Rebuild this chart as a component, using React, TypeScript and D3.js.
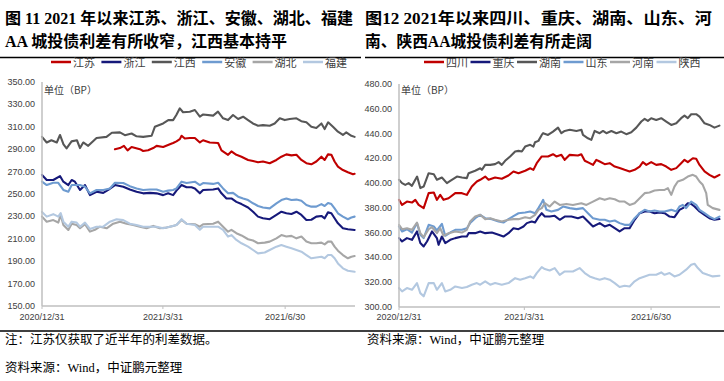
import React, { useEffect } from "react";
import * as d3 from "d3";

type Pt = [number, number]; // [days since 2020-12-31, spread in BP]

const START = new Date(2020, 11, 31).getTime();
const DAY = 86400000;
const toDate = (d: number) => new Date(START + d * DAY);

const leftTitle = ["图 11  2021 年以来江苏、浙江、安徽、湖北、福建", "AA 城投债利差有所收窄，江西基本持平"];
const rightTitle = ["图12   2021年以来四川、重庆、湖南、山东、河", "南、陕西AA城投债利差有所走阔"];
const leftNames = ["江苏", "浙江", "江西", "安徽", "湖北", "福建"];
const rightNames = ["四川", "重庆", "湖南", "山东", "河南", "陕西"];
const leftYTicks = [150, 170, 190, 210, 230, 250, 270, 290, 310, 330, 350];
const rightYTicks = [300, 320, 340, 360, 380, 400, 420, 440, 460, 480];
const xTickDays = [0, 90, 181];
const xTickLabels = ["2020/12/31", "2021/3/31", "2021/6/30"];
const unitLabel = "单位（BP）";
const noteLeft = "注：江苏仅获取了近半年的利差数据。";
const sourceText = "资料来源：Wind，中证鹏元整理";

const jiangsu: Pt[] = [[54.3,290],[58,291],[61,293],[63.7,289],[66.7,292],[72.9,290],[75.3,288.4],[79,289],[82.8,291],[85.3,293],[90.2,292],[95.2,294.4],[97.6,295.5],[100.1,297],[102.6,299],[103.9,302],[106.3,299.5],[110,300],[113.8,300],[117.5,296],[119.9,298],[124.9,296],[131.1,295.5],[133.6,289],[138.5,285],[141,288],[144.7,285],[148.5,283.3],[153.4,280.4],[157.1,279.5],[160.8,278.3],[164.5,279],[169.5,277.5],[174.5,280.4],[178.2,283.3],[181.9,285.4],[185.7,284.5],[189.4,285],[193.1,280.4],[196.8,277.5],[200.5,276.5],[204.2,279],[208,283.3],[210.4,280.4],[212.9,285.4],[215.4,285],[217.8,279],[220.3,274.4],[224,271.4],[227.7,269.4],[231.5,267.6],[232.7,268]];
const zhejiang: Pt[] = [[0,267],[3.5,262.5],[8.4,262.5],[13.4,266],[15.9,261],[19.6,258],[22.1,262.5],[24.5,261],[28.3,253.6],[32,258],[35.7,249],[40.6,252],[45.6,251],[49.3,253.6],[54.3,258],[60.5,256.5],[65.4,254],[70.4,252],[75.3,250.6],[80.3,251],[85.3,250.6],[90.2,249],[93.9,250.6],[97.6,249],[100.1,253],[103.9,258],[107.6,256],[111.3,256],[113.8,255],[117.5,250.6],[119.9,253.6],[127.4,254],[131.1,255],[133.6,250.6],[137.3,246],[141,246],[144.7,243],[148.5,241],[153.4,238],[157.1,234.2],[160.8,229.8],[164.5,228.3],[169.5,227.5],[174.5,231.3],[178.2,234.2],[181.9,232.8],[185.7,232.2],[189.4,234.2],[193.1,231.3],[196.8,226.8],[200.5,227],[204.2,229.8],[208,230.4],[210.4,228.3],[212.9,233.6],[215.4,232.8],[217.8,228.3],[220.3,223.8],[224,219.4],[227.7,218.6],[232.7,217.9]];
const jiangxi: Pt[] = [[0,301],[3.5,296],[7,298],[11,296],[13.4,302.7],[16,294.4],[18.3,290.8],[22,297],[26,298],[28.3,291],[30.7,296],[34.4,293],[40.6,300],[48,301],[52,304.7],[58,305],[61.7,302.5],[66.7,304],[70.4,301.5],[75.3,301],[81.6,302],[84,310],[90.2,313],[94,316],[97.6,316],[100,320.5],[102.6,326.5],[105,323],[110,323.5],[113.8,325],[117.5,319],[120,321],[127.4,320],[131,323.5],[134.8,317.6],[138.5,316],[142.2,320.5],[146,317],[149.7,319],[153.4,316],[157,313],[160.8,311],[164.5,311.5],[169.5,311],[173.2,313],[177,317.6],[180.7,316],[184.4,317],[189.4,317.6],[193,315],[196.8,314],[200.5,310],[204.2,309],[208,313],[210.4,308],[213,314],[216.6,310],[220.3,305.6],[224,302.7],[226.5,305],[230.3,302],[232.7,301]];
const anhui: Pt[] = [[0,261],[3.5,258],[8.4,260],[12.1,260],[15.9,253.6],[19.6,252],[22.1,258],[28.3,258],[32,256.5],[35.7,250.6],[40.6,253.6],[45.6,253.6],[50.6,255],[54.3,260],[60.5,259.8],[65.4,257],[70.4,255],[75.3,253.6],[80.3,254],[85.3,254],[90.2,252],[93.9,253],[97.6,253.6],[100.1,255],[103.9,261],[107.6,259.8],[113.8,261],[117.5,258],[119.9,259.8],[127.4,259],[131.1,260],[134.8,255],[138.5,250.6],[142.2,251],[146,247.6],[149.7,246],[153.4,244.6],[157.1,241.7],[160.8,239.3],[164.5,238],[169.5,237.2],[174.5,241.7],[178.2,244.6],[181.9,246],[185.7,244.6],[189.4,245],[193.1,244],[196.8,240.2],[200.5,238.7],[204.2,238.7],[208,241],[210.4,239.3],[212.9,242],[215.4,241],[217.8,237.2],[220.3,232.8],[224,229.8],[227.7,227.5],[230.3,229],[232.7,229.8]];
const hubei: Pt[] = [[0,229.8],[3.5,225.3],[8.4,226.7],[12.1,224.5],[13.9,231.3],[15.9,222.3],[19.6,217.9],[22.1,223.5],[25.8,222.3],[28.3,219.4],[32,223],[35.7,216.4],[39.4,218],[43.1,220.8],[48.1,219.4],[53,223.5],[58,225.3],[63,223.5],[67.9,222.3],[72.9,220.8],[77.8,219.4],[82.8,221.5],[87.7,219.4],[92.7,220],[97.6,221.5],[100.1,222.3],[103.9,226.8],[107.6,223.5],[113.8,223],[117.5,220.8],[119.9,223],[127.4,223.5],[131.1,225.3],[134.8,220.8],[138.5,216.4],[141,218],[144.7,215],[148.5,213],[153.4,209.6],[157.1,208.5],[160.8,206],[165.8,206.6],[169.5,207.5],[174.5,210.4],[178.2,213.3],[181.9,212],[185.7,212.6],[189.4,210.4],[193.1,212],[196.8,207.5],[200.5,206],[204.2,206],[208,206.6],[210.4,205],[212.9,207.5],[215.4,207.5],[217.8,203],[220.3,199.4],[224,195.5],[227.7,192.6],[230.3,194],[232.7,194.6]];
const fujian: Pt[] = [[0,234],[3.5,229.8],[8.4,232],[12.1,229.8],[13.9,233],[15.9,225.3],[19.6,220.8],[22.1,225.3],[25.8,224.5],[28.3,220.8],[32,224.5],[35.7,218.8],[40.6,220.8],[45.6,220.8],[50.6,225.3],[55.5,227.5],[60.5,226.7],[65.4,223.5],[70.4,222.3],[75.3,220.8],[80.3,220.8],[85.3,220.8],[90.2,219.4],[95.2,220.8],[100.1,222.3],[103.9,227.5],[107.6,223.5],[113.8,222.3],[117.5,218],[119.9,220.8],[127.4,220.8],[131.1,220.8],[134.8,218],[138.5,211.9],[141,213.3],[144.7,209],[148.5,206],[153.4,203],[157.1,200],[160.8,197],[165.8,197.8],[169.5,200],[174.5,203],[178.2,204.5],[181.9,203],[185.7,201.5],[189.4,200],[193.1,198.5],[196.8,195.5],[200.5,192.6],[204.2,193.3],[208,194],[210.4,192.6],[212.9,195.5],[215.4,195.5],[217.8,192.6],[220.3,188],[224,183.6],[227.7,181.5],[232.7,180.6]];

const sichuan: Pt[] = [[0,386.5],[2.2,382.4],[5.7,385.1],[9.3,384.3],[11.7,386.5],[14.1,382.4],[17.7,379.8],[21.3,391.9],[25,392.4],[27.2,386.5],[29.6,390.5],[32,386.5],[35.6,387.8],[40.4,391.9],[45.2,391.9],[48.7,390.5],[52.3,397.2],[55.9,401.3],[58.3,402.7],[61.9,405.3],[64.3,402.7],[69,404.5],[73.8,403.5],[78.6,406.1],[82.2,409.4],[85.8,408],[90.6,410],[94.2,412],[96.5,410.7],[98.9,416.1],[102.5,421.5],[107,421.5],[110.6,423.3],[113,421.5],[116.6,422.8],[119,418.8],[122.6,422.8],[128.5,422.3],[130.9,423.3],[133.4,418],[136.9,416.1],[139.3,414.7],[141.7,418.8],[144.1,417.4],[147.7,415.3],[151.3,416.1],[154.9,413.4],[158.4,412.1],[162,410.7],[165.6,409.4],[169.2,410.7],[172.8,413.4],[175.1,416.9],[177.6,414.7],[181.1,416.9],[184.7,414.7],[188.3,415.3],[191.9,413.4],[195.5,410.7],[199.1,412.1],[202.6,416.1],[205,418.8],[207.4,416.9],[211,420.1],[213.4,419.6],[215.8,414.7],[219.4,409.4],[222.9,406.7],[226.5,404.5],[230.1,406.7]];
const chongqing: Pt[] = [[0,355.6],[2.2,352.9],[5.7,355.6],[9.3,354.2],[12.9,361],[15.3,351.6],[17.7,348.9],[20.1,352.9],[23.7,361],[27.2,355.6],[28.4,350.2],[30.8,356.9],[33.2,351.6],[36.8,354.2],[40.4,355.6],[45.2,356.9],[48.7,356.9],[50,359.6],[54.7,359.6],[58.3,361],[61.9,359.6],[66.7,360.1],[71.5,358.3],[75,356.9],[78.6,359.6],[82.2,363.6],[85.8,362.8],[89.4,365],[91.8,367.7],[95.3,369],[97.7,368.2],[100.1,372.5],[102.5,375.7],[104.7,373],[108.2,373],[111.8,373.6],[115.4,370.4],[119,373],[123.8,373],[128.5,371.7],[132.1,373],[135.7,369],[139.3,365],[144.1,367.7],[147.7,365],[151.3,366.3],[154.9,363.6],[158.4,361],[162,363.6],[165.6,363.6],[169.2,370.4],[172.8,375.7],[176.4,377.1],[179.9,377.1],[183.5,375.7],[187.1,376.3],[190.7,375.7],[194.3,373],[197.8,372.5],[201.4,378.4],[203.8,379.8],[207.4,383.8],[209.8,383.2],[212.2,381.1],[215.8,377.1],[219.4,374.4],[222.9,371.7],[226.5,370.4],[230.1,371]];
const hunan: Pt[] = [[0,402.7],[2.2,400],[4.5,398.6],[6.9,400],[9.3,397.8],[13,405.3],[15.3,396],[17.7,397.2],[21.3,408],[25,407.2],[27.2,402.7],[30.8,404.5],[34.4,400],[36.8,401.8],[41.6,405.3],[45.2,404.5],[48.7,404],[50,408],[54.7,410],[58.3,412],[59.5,410.7],[61.9,414.7],[65.5,414.7],[69,415.3],[71.5,416.9],[73.8,414.7],[76.2,418],[79.8,421.5],[83.4,425.5],[85.8,426],[88.2,425.5],[90.6,429.5],[94.2,430.9],[96.5,429.5],[97.7,433],[100.1,434.1],[102.5,438.9],[103.5,440.3],[107,438.9],[110.6,441.6],[114.2,444.8],[116.6,440.3],[119,442.1],[122.6,443],[127.4,442.1],[131,443],[132.1,438.9],[135.7,436.2],[138.1,434.9],[140.5,442.1],[144.1,440.3],[146.5,442.1],[148.9,440.3],[152.5,442],[156.1,440.3],[159.6,441.6],[163.2,439.5],[166.8,441.1],[170.4,444.8],[174,449.7],[176.4,451.8],[178.7,450.2],[181.1,452.4],[184.7,451],[188.3,452.4],[191.9,449.7],[195.5,447],[199.1,448.3],[202.6,452.4],[205,454.5],[207.4,452.4],[209.8,455.6],[213.4,455.6],[215.8,453.7],[219.4,448.3],[222.9,447],[226.5,444.8],[230.1,446.4]];
const shandong: Pt[] = [[0,365],[2.2,361],[5.7,362.8],[9.3,360.1],[12.9,367.7],[15.3,358.3],[17.7,355.6],[21.3,366.3],[25,365],[27.2,361.8],[30.8,367.1],[33.2,357.5],[36.8,360.1],[40.4,362.3],[45.2,362.3],[48.7,363.6],[51.1,367.7],[54.7,371.7],[58.3,374.4],[61.9,371.7],[66.7,370.9],[71.5,369],[75,368.2],[78.6,370.9],[82.2,373.4],[85.8,375.7],[90.6,376.3],[94.2,377.1],[97.7,375.7],[100.1,379.8],[102.5,384.3],[103.5,386.5],[105.9,378.4],[109.4,377.1],[114.2,378.4],[117.8,381.1],[122.6,379.8],[127.4,379],[132.1,379.8],[135.7,375.7],[139.3,371.7],[144.1,370.4],[147.7,370.4],[151.3,369],[154.9,369.8],[158.4,367.7],[162,366.3],[165.6,366.3],[169.2,371.7],[172.8,375.7],[176.4,378.4],[179.9,377.1],[183.5,377.9],[187.1,377.1],[190.7,377.1],[195.5,378.4],[199.1,377.1],[201.4,381.1],[203.8,382.4],[206.2,379.8],[209.8,385.1],[213.4,382.4],[215.8,378.4],[219.4,375.7],[222.9,373],[226.5,370.9],[230.1,373]];
const henan: Pt[] = [[0,366.3],[2.2,362.8],[5.7,363.6],[9.3,362.3],[12.9,368.2],[15.3,359.6],[17.7,356.4],[21.3,362.8],[23.7,364.4],[27.2,359.6],[29.6,363.6],[32,357.5],[35.6,359.6],[40.4,361],[45.2,360.1],[48.7,362.3],[51.1,369],[54.7,373.1],[58.3,374.4],[61.9,370.9],[65.5,371.7],[69,370.4],[73.8,369],[78.6,370.4],[82.2,370.9],[85.8,370.9],[90.6,372.5],[94.2,371.7],[97.7,374.4],[100.1,378.4],[102.5,379.8],[104.7,383.8],[108.2,381.1],[111.8,385.1],[115.4,382.4],[120.2,383.2],[124.9,382.4],[130.9,383.8],[134.6,382.4],[139.3,385.1],[144.1,387.8],[147.7,386.5],[151.3,387.8],[154.9,387],[158.4,385.1],[162,385.1],[165.6,382.4],[169.2,383.8],[172.8,387.8],[176.4,391.9],[179.9,392.4],[183.5,394],[187.1,394.5],[190.7,394.5],[193.1,395.9],[195.5,390.5],[197.8,397.2],[200.2,401.3],[203.8,402.7],[207.4,405.3],[211,406.7],[213.4,405.3],[215.8,401.3],[218.1,398.6],[220.6,391.9],[221.7,382.4],[225.3,379.8],[230.1,378.4]];
const shaanxi: Pt[] = [[0,315.3],[2.2,312.6],[5.7,315.3],[9.3,313.9],[12.9,319.3],[15.3,311.2],[17.7,308.6],[21.3,319.3],[25,319.3],[27.2,313.9],[30.8,319.3],[33.2,312.6],[36.8,313.9],[40.4,316.6],[45.2,315.3],[48.7,316.1],[52.3,318],[55.9,319.3],[58.3,318],[61.9,320.7],[65.5,318],[69,319.3],[73.8,318],[78.6,319.3],[83.4,323.3],[87,322],[90.6,323.3],[94.2,324.7],[96.5,323.3],[98.9,327.4],[102.5,332.2],[104.7,330.6],[108.2,329.5],[111.8,331.4],[115.4,326],[119,328.7],[124.9,328.7],[129.7,331.4],[133.4,327.4],[136.9,324.7],[140.5,323.3],[144.1,322],[147.7,323.3],[151.3,322],[154.9,319.3],[158.4,316.1],[162,317.2],[165.6,316.6],[169.2,320.7],[172.8,323.3],[176.4,324.7],[179.9,326],[184.7,326],[188.3,327.9],[190.7,326],[194.3,327.4],[197.8,324.7],[201.4,326],[206.2,330.1],[209.8,334.1],[212.2,334.9],[214.6,331.4],[218.1,327.4],[221.7,326],[225.3,324.7],[230.1,325.2]];

const COLORS = ["#C00000", "#16197A", "#575757", "#6E9BD0", "#A6A6A6", "#B3C8E0"];

const CJK = "'Noto Sans CJK SC', 'Noto Sans', sans-serif";
const TITLE_FONT = "'Liberation Serif', 'Noto Sans CJK SC', serif";
const NUM_FONT = "'Liberation Sans', 'DejaVu Sans', sans-serif";

interface PanelProps {
  titles: string[];
  titleX: number;
  titleWidths: number[];
  names: string[];
  data: Pt[][];
  x0: number;
  x1: number;
  yTop: number;
  yBottom: number;
  yDomain: [number, number];
  yTicks: number[];
  endDay: number;
  legendX0: number;
  legendStep: number;
  ruleX0: number;
  ruleX1: number;
}

function Panel(p: PanelProps) {
  const x = d3.scaleTime().domain([toDate(0), toDate(p.endDay)]).range([p.x0, p.x1]);
  const y = d3.scaleLinear().domain(p.yDomain).range([p.yBottom, p.yTop]);
  const line = d3
    .line<Pt>()
    .x((d) => x(toDate(d[0])))
    .y((d) => y(d[1]));
  const axisColor = "#BFBFBF";
  return (
    <g>
      {p.titles.map((t, i) => (
        <text
          key={i}
          x={p.titleX}
          y={24 + i * 22.5}
          fontFamily={TITLE_FONT}
          fontWeight="bold"
          fontSize={16}
          fill="#000"
          textLength={p.titleWidths[i]}
          lengthAdjust="spacingAndGlyphs"
        >
          {t}
        </text>
      ))}
      <line x1={p.ruleX0} x2={p.ruleX1} y1={57.5} y2={57.5} stroke="#000" strokeWidth={1.5} />
      {p.names.map((n, i) => {
        const lx = p.legendX0 + i * p.legendStep;
        return (
          <g key={n}>
            <line x1={lx} x2={lx + 20} y1={62} y2={62} stroke={COLORS[i]} strokeWidth={2.5} />
            <text x={lx + 22} y={62} dominantBaseline="central" fontFamily={CJK} fontSize={11} fill="#404040">
              {n}
            </text>
          </g>
        );
      })}
      {p.yTicks.map((v) => (
        <text
          key={v}
          x={p.x0 - 7}
          y={y(v)}
          textAnchor="end"
          dominantBaseline="central"
          fontFamily={NUM_FONT}
          fontSize={9}
          fill="#404040"
        >
          {v.toFixed(2)}
        </text>
      ))}
      <text x={p.x0 + 2} y={89} dominantBaseline="central" fontFamily={CJK} fontSize={10} fill="#404040">
        {unitLabel}
      </text>
      {p.data.map((d, i) => (
        <path
          key={i}
          d={line(d) || ""}
          fill="none"
          stroke={COLORS[i]}
          strokeWidth={2.1}
          strokeLinejoin="round"
          strokeLinecap="round"
        />
      ))}
      <line x1={p.x0} x2={p.x0} y1={p.yTop} y2={p.yBottom} stroke={axisColor} strokeWidth={1.5} />
      <line x1={p.x0} x2={p.x1} y1={p.yBottom} y2={p.yBottom} stroke={axisColor} strokeWidth={1.5} />
      {xTickDays.map((d, i) => (
        <g key={d}>
          <line x1={x(toDate(d))} x2={x(toDate(d))} y1={p.yBottom} y2={p.yBottom + 3} stroke={axisColor} strokeWidth={1} />
          <text
            x={x(toDate(d))}
            y={320}
            textAnchor="middle"
            fontFamily={NUM_FONT}
            fontSize={9}
            fill="#404040"
          >
            {xTickLabels[i]}
          </text>
        </g>
      ))}
    </g>
  );
}

export default function App() {
  useEffect(() => {
    document.body.style.margin = "0";
  }, []);
  const noteFont = "'Liberation Serif', 'Noto Sans CJK SC', serif";
  return (
    <svg width={724} height={381} style={{ position: "absolute", left: 0, top: 0, background: "#fff" }}>
      <rect x={0} y={0} width={724} height={381} fill="#fff" />
      <Panel
        titles={leftTitle}
        titleX={5}
        titleWidths={[348, 282]}
        names={leftNames}
        data={[jiangsu, zhejiang, jiangxi, anhui, hubei, fujian]}
        x0={42}
        x1={355}
        yTop={82}
        yBottom={306}
        yDomain={[150, 350]}
        yTicks={leftYTicks}
        endDay={233}
        legendX0={51}
        legendStep={50.4}
        ruleX0={0}
        ruleX1={361}
      />
      <Panel
        titles={rightTitle}
        titleX={365}
        titleWidths={[347, 227]}
        names={rightNames}
        data={[sichuan, chongqing, hunan, shandong, henan, shaanxi]}
        x0={399}
        x1={720}
        yTop={84}
        yBottom={307}
        yDomain={[300, 480]}
        yTicks={rightYTicks}
        endDay={230.5}
        legendX0={424}
        legendStep={46.5}
        ruleX0={365}
        ruleX1={724}
      />
      <line x1={0} x2={724} y1={331} y2={331} stroke="#000" strokeWidth={1.5} />
      <text x={5} y={340} dominantBaseline="central" fontFamily={noteFont} fontSize={12.5} fill="#000">
        {noteLeft}
      </text>
      <text x={367} y={340} dominantBaseline="central" fontFamily={noteFont} fontSize={12.5} fill="#000">
        {sourceText}
      </text>
      <text x={5} y={368} dominantBaseline="central" fontFamily={noteFont} fontSize={12.5} fill="#000">
        {sourceText}
      </text>
    </svg>
  );
}
